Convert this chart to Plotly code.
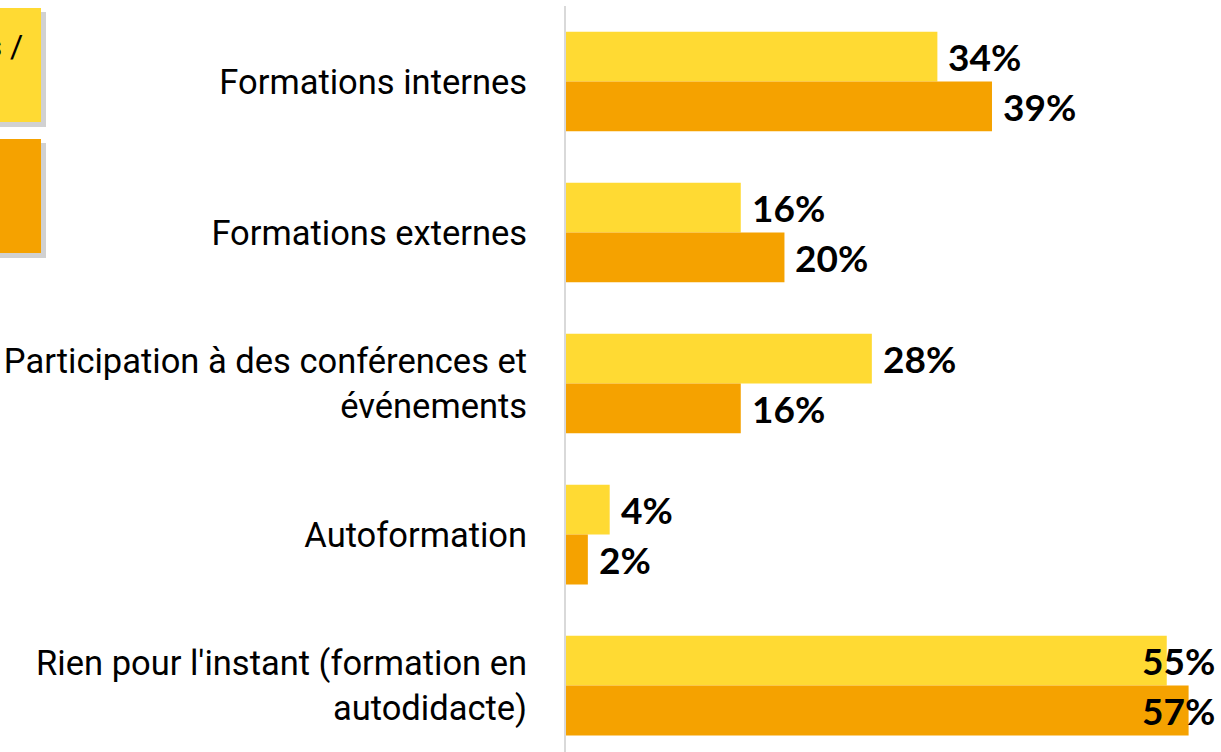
import plotly.graph_objects as go

categories = [
    "Formations internes",
    "Formations externes",
    "Participation à des conférences et<br>événements",
    "Autoformation",
    "Rien pour l'instant (formation en<br>autodidacte)",
]
series_a_name = "Éditeurs /"
series_b_name = "Autres"
series_a = [34, 16, 28, 4, 55]
series_b = [39, 20, 16, 2, 57]

YELLOW = "#FFDA33"
ORANGE = "#F5A200"

W, H = 1221, 752
ML, MR, MT, MB = 566, 4, 6, 0
XMAX = 59.6
BARGAP = 0.34

fig = go.Figure()
fig.add_trace(go.Bar(y=categories, x=series_a, orientation="h", name=series_a_name,
                     marker=dict(color=YELLOW, line=dict(width=0))))
fig.add_trace(go.Bar(y=categories, x=series_b, orientation="h", name=series_b_name,
                     marker=dict(color=ORANGE, line=dict(width=0))))

# value labels
label_font = dict(family="Lato", size=37, color="#000000")
pw = W - ML - MR
px_per_unit = pw / XMAX
label_w = 82
half = (1 - BARGAP) / 4
for vals, off in ((series_a, -half), (series_b, half)):
    for i, v in enumerate(vals):
        fits = ML + v * px_per_unit + 12 + label_w < W - 2
        fig.add_annotation(
            x=v if fits else XMAX, y=i + off, xref="x", yref="y",
            text=f"<b>{v}%</b>", showarrow=False,
            xanchor="left" if fits else "right", xshift=9 if fits else 0,
            yanchor="middle",
            font=label_font,
        )

# legend boxes (partially cropped at left edge)
def px2paper_x(px):
    return (px - ML) / pw

def px2paper_y(py):
    ph = H - MT - MB
    return 1 - (py - MT) / ph

for (top, bot, col) in ((8, 122, YELLOW), (139, 253, ORANGE)):
    fig.add_shape(type="rect", xref="paper", yref="paper",
                  x0=px2paper_x(-20), x1=px2paper_x(46), y0=px2paper_y(bot + 5), y1=px2paper_y(top + 4),
                  fillcolor="rgba(0,0,0,0.18)", line=dict(width=0), layer="below")
    fig.add_shape(type="rect", xref="paper", yref="paper",
                  x0=px2paper_x(-20), x1=px2paper_x(41), y0=px2paper_y(bot), y1=px2paper_y(top),
                  fillcolor=col, line=dict(width=0), layer="below")

fig.add_annotation(x=px2paper_x(25), y=px2paper_y(46), xref="paper", yref="paper",
                   text=series_a_name, showarrow=False, xanchor="right", yanchor="middle",
                   font=dict(family="Roboto", size=32, color="#000000"))

fig.update_layout(
    width=W, height=H,
    margin=dict(l=ML, r=MR, t=MT, b=MB, pad=0),
    barmode="group", bargap=BARGAP, bargroupgap=0,
    plot_bgcolor="white", paper_bgcolor="white",
    showlegend=False,
    font=dict(family="Roboto", size=34.5, color="#000000"),
)
fig.update_xaxes(range=[0, XMAX], showgrid=False, zeroline=False, showticklabels=False,
                 showline=False, ticks="")
fig.update_yaxes(range=[len(categories) - 0.56, -0.5], showgrid=False, zeroline=False,
                 showline=True, linecolor="#D9D9D9", linewidth=2, ticks="",
                 ticklabelstandoff=30,
                 tickfont=dict(family="Roboto", size=34.5, color="#000000"))

fig.write_html("out.html", config={"displayModeBar": False},
               post_script="document.body.style.margin='0';")
